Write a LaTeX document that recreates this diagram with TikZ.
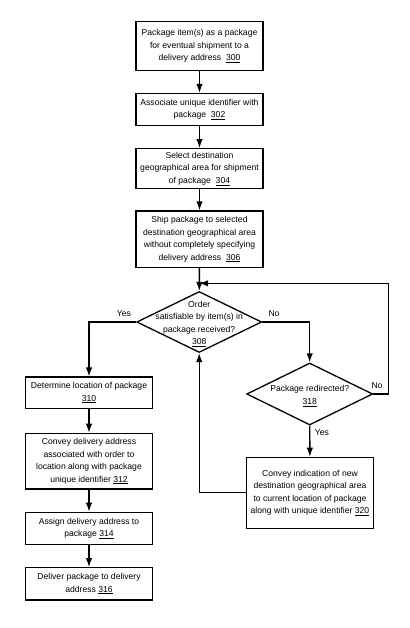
\documentclass[tikz,border=0pt]{standalone}
\usepackage{fontspec}
\setmainfont{Liberation Sans}
\usetikzlibrary{arrows.meta,shapes.geometric}
\newcommand{\refno}[1]{\underline{#1}}
\begin{document}
\begin{tikzpicture}[x=1pt,y=-1pt,
	font=\fontsize{8.6}{12.5}\selectfont,
	box/.style={draw,line width=1.3pt,align=center,inner sep=0pt,minimum width=127pt},
	decision/.style={draw,line width=1.3pt,diamond,inner sep=0pt},
	flow/.style={line width=1.3pt,-{Latex[length=9pt,width=6.5pt]}},
	answer/.style={inner sep=0pt}]
				\useasboundingbox (0,0) rectangle (409,628);
				\node[box,minimum height=48.5pt] (A) at (199.5,46) {Package item(s) as a package\\for eventual shipment to a\\delivery address\ \ \refno{300}};
				\node[box,minimum height=32pt] (B) at (199.5,109.5) {Associate unique identifier with\\package\ \ \refno{302}};
				\node[box,minimum height=40pt] (C) at (199.5,168.7) {Select destination\\geographical area for shipment\\of package\ \ \refno{304}};
				\node[box,minimum height=56.5pt] (D) at (199.5,239.3) {Ship package to selected\\destination geographical area\\without completely specifying\\delivery address\ \ \refno{306}};
				\node[decision,minimum width=125pt,minimum height=61pt,
					label={[align=center,yshift=-2pt]center:Order\\satisfiable by item(s) in\\package received?\\\refno{308}}] (E) at (199.2,322) {};
				\node[box,minimum height=31.3pt] (F) at (89,392.7) {Determine location of package\\\refno{310}};
				\node[box,minimum height=55.7pt] (G) at (89,461.2) {Convey delivery address\\associated with order to\\location along with package\\unique identifier \refno{312}};
				\node[box,minimum height=32pt] (H) at (89,528.3) {Assign delivery address to\\package \refno{314}};
				\node[box,minimum height=32.3pt] (I) at (89,583.8) {Deliver package to delivery\\address \refno{316}};
				\node[decision,minimum width=126pt,minimum height=62pt,
					label={[align=center,yshift=-2pt]center:Package redirected?\\\refno{318}}] (J) at (309.7,394) {};
				\node[box,minimum height=71pt] (K) at (310,492.8) {Convey indication of new\\destination geographical area\\to current location of package\\along with unique identifier \refno{320}};
				\coordinate (L) at (388.3,283.3);
				\node[answer] (Y1) at (124,314) {Yes};
				\node[answer] (N1) at (274,314) {No};
				\node[answer] (N2) at (377,386) {No};
				\node[answer] (Y2) at (322,433) {Yes};
				\draw[flow] (A) to (B);
				\draw[flow] (B) to (C);
				\draw[flow] (C) to (D);
				\draw[flow] (D) to (E);
				\draw[flow] (E.west) -| (F);
				\draw[flow] (F) to (G);
				\draw[flow] (G) to (H);
				\draw[flow] (H) to (I);
				\draw[flow] (E.east) -| (J);
				\draw[flow] (J) to (K);
				\draw[flow] (J.east) -| (L) to (L -| E.north);
				\draw[flow] (K.west) -| (E.south);
			\end{tikzpicture}
\end{document}
